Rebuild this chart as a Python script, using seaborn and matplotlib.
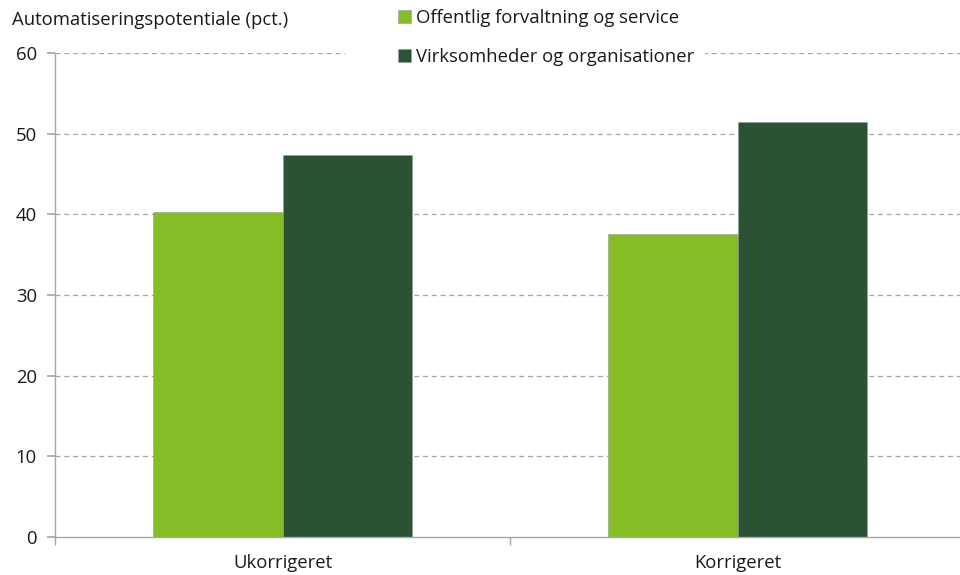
import pandas as pd
import matplotlib
matplotlib.use("Agg")
import matplotlib.pyplot as plt
from matplotlib.patches import Rectangle
import seaborn as sns

# data
categories = ["Ukorrigeret", "Korrigeret"]
series_names = ["Offentlig forvaltning og service", "Virksomheder og organisationer"]
offentlig = [40.3, 37.6]
virksomheder = [47.4, 51.4]
colors = ["#86BC25", "#2C5234"]

df = pd.DataFrame({
    "kategori": categories * 2,
    "serie": [series_names[0]] * 2 + [series_names[1]] * 2,
    "værdi": offentlig + virksomheder,
})

sns.set_theme(style="white")
plt.rcParams["font.family"] = ["Open Sans", "DejaVu Sans"]
FS = 13.3

fig = plt.figure(figsize=(9.6, 5.75), dpi=100)
ax = fig.add_axes([0.0573, 0.0661, 0.948, 0.8417])

sns.barplot(data=df, x="kategori", y="værdi", hue="serie", palette=colors,
            saturation=1, width=0.57, gap=0, ax=ax, edgecolor="#8fa08f",
            linewidth=0.4, legend=True)

ax.set_xlim(-0.5, 1.5)
ax.set_ylim(0, 60)
ax.set_yticks(range(0, 61, 10))
ax.set_xlabel("")
ax.set_ylabel("")

# dashed grid, no line at zero
for v in range(10, 61, 10):
    ax.axhline(v, color="#a6a6a6", linestyle=(0, (4, 3)), linewidth=0.9, zorder=0)

for s in ["top", "right"]:
    ax.spines[s].set_visible(False)
for s in ["left", "bottom"]:
    ax.spines[s].set_color("#a6a6a6")
    ax.spines[s].set_linewidth(1.0)

# category ticks sit between groups
ax.set_xticks([0, 1])
ax.set_xticklabels(categories)
ax.set_xticks([-0.5, 0.5, 1.5], minor=True)
ax.tick_params(axis="x", which="major", length=0, pad=12, labelsize=FS, labelcolor="#1a1a1a")
ax.tick_params(axis="x", which="minor", length=6, direction="out", color="#a6a6a6", bottom=True)
ax.tick_params(axis="y", length=6, direction="out", color="#a6a6a6", left=True,
               labelsize=FS, labelcolor="#1a1a1a", pad=7)

fig.text(0.0125, 0.966, "Automatiseringspotentiale (pct.)", fontsize=FS,
         color="#1a1a1a", va="center", ha="left")

# white box behind the legend hides part of the top grid line
fig.patches.append(Rectangle((345 / 960, 1 - 75 / 575), 360 / 960, 75 / 575,
                             transform=fig.transFigure, facecolor="white",
                             edgecolor="none", zorder=1))

handles, labels = ax.get_legend_handles_labels()
ax.get_legend().remove()
leg = fig.legend(handles, labels, loc="upper left", bbox_to_anchor=(0.411, 0.991),
                 frameon=False, fontsize=FS, handlelength=0.7, handleheight=0.7,
                 handletextpad=0.25, labelspacing=1.12, borderpad=0.2, borderaxespad=0)
leg.set_zorder(2)
for t in leg.get_texts():
    t.set_color("#1a1a1a")

fig.savefig("out.png", dpi=100)
